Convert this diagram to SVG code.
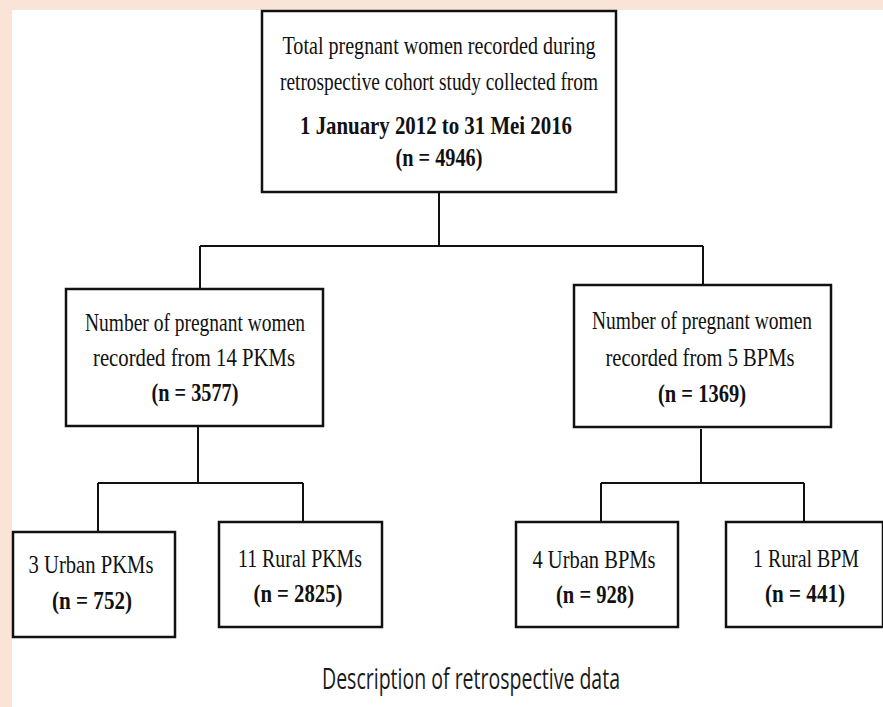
<svg xmlns="http://www.w3.org/2000/svg" width="883" height="707" viewBox="0 0 883 707">
  <style>
    .box { fill: #ffffff; stroke: #111111; stroke-width: 2.5; }
    .conn { stroke: #111111; stroke-width: 2; fill: none; }
    .t { font-family: "Liberation Serif", "Times New Roman", serif; font-size: 26px; fill: #111111; text-anchor: middle; }
    .b { font-weight: bold; }
    .cap { font-family: "Open Sans", "Liberation Sans", sans-serif; font-size: 29px; fill: #1a1a1a; text-anchor: middle; }
  </style>
  <rect x="0" y="0" width="883" height="707" fill="#ffffff"/>
  <rect x="0" y="0" width="883" height="10" fill="#fae4d7"/>
  <rect x="0" y="0" width="12" height="707" fill="#fae4d7"/>

  <g id="connectors">
    <path class="conn" d="M439,192 V246 M200,246 H703 M200,246 V289 M703,246 V285"/>
    <path class="conn" d="M198,426 V483 M98,483 H303 M98,483 V532 M303,483 V522"/>
    <path class="conn" d="M701,429 V483 M601,483 H804 M601,483 V522 M804,483 V522"/>
  </g>

  <g id="total">
    <rect class="box" x="262" y="11" width="354" height="181"/>
    <text class="t" x="439" y="54" textLength="313" lengthAdjust="spacingAndGlyphs">Total pregnant women recorded during</text>
    <text class="t" x="439" y="90" textLength="318" lengthAdjust="spacingAndGlyphs">retrospective cohort study collected from</text>
    <text class="t b" x="436" y="134" textLength="272" lengthAdjust="spacingAndGlyphs">1 January 2012 to 31 Mei 2016</text>
    <text class="t b" x="439" y="166" textLength="87" lengthAdjust="spacingAndGlyphs">(n = 4946)</text>
  </g>

  <g id="pkm">
    <rect class="box" x="66" y="289" width="257" height="137"/>
    <text class="t" x="195" y="331" textLength="220" lengthAdjust="spacingAndGlyphs">Number of pregnant women</text>
    <text class="t" x="194" y="366" textLength="202" lengthAdjust="spacingAndGlyphs">recorded from 14 PKMs</text>
    <text class="t b" x="195" y="401" textLength="87" lengthAdjust="spacingAndGlyphs">(n = 3577)</text>
  </g>

  <g id="bpm">
    <rect class="box" x="574" y="285" width="257" height="142"/>
    <text class="t" x="702" y="329" textLength="220" lengthAdjust="spacingAndGlyphs">Number of pregnant women</text>
    <text class="t" x="700" y="366" textLength="189" lengthAdjust="spacingAndGlyphs">recorded from 5 BPMs</text>
    <text class="t b" x="702" y="402" textLength="88" lengthAdjust="spacingAndGlyphs">(n = 1369)</text>
  </g>

  <g id="urban-pkm">
    <rect class="box" x="13" y="532" width="162" height="105"/>
    <text class="t" x="91" y="573" textLength="125" lengthAdjust="spacingAndGlyphs">3 Urban PKMs</text>
    <text class="t b" x="92" y="609" textLength="80" lengthAdjust="spacingAndGlyphs">(n = 752)</text>
  </g>

  <g id="rural-pkm">
    <rect class="box" x="219" y="522" width="163" height="105"/>
    <text class="t" x="300" y="567" textLength="124" lengthAdjust="spacingAndGlyphs">11 Rural PKMs</text>
    <text class="t b" x="298" y="602" textLength="89" lengthAdjust="spacingAndGlyphs">(n = 2825)</text>
  </g>

  <g id="urban-bpm">
    <rect class="box" x="516" y="522" width="162" height="105"/>
    <text class="t" x="594" y="568" textLength="123" lengthAdjust="spacingAndGlyphs">4 Urban BPMs</text>
    <text class="t b" x="595" y="603" textLength="78" lengthAdjust="spacingAndGlyphs">(n = 928)</text>
  </g>

  <g id="rural-bpm">
    <rect class="box" x="726" y="522" width="157" height="105"/>
    <text class="t" x="806" y="567" textLength="106" lengthAdjust="spacingAndGlyphs">1 Rural BPM</text>
    <text class="t b" x="805" y="602" textLength="80" lengthAdjust="spacingAndGlyphs">(n = 441)</text>
  </g>

  <g id="caption">
    <text class="cap" x="471" y="689" textLength="298" lengthAdjust="spacingAndGlyphs">Description of retrospective data</text>
  </g>
</svg>
